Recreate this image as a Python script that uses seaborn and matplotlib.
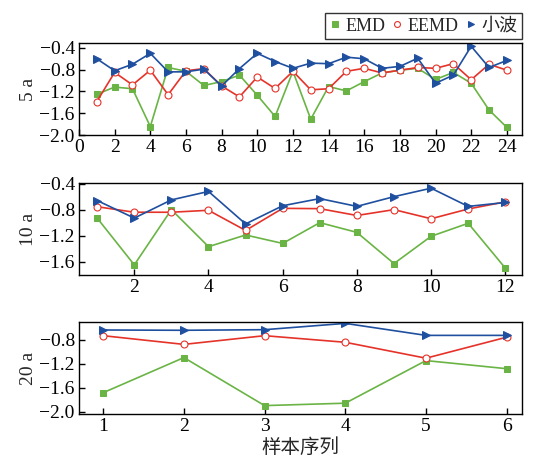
import matplotlib
matplotlib.use("Agg")
from matplotlib import pyplot as plt
import seaborn as sns
import numpy as np
import pandas as pd

# 5 a
emd_5 = [-1.25, -1.12, -1.15, -1.845, -0.76, -0.83, -1.09, -1.02, -0.90, -1.27, -1.66, -0.83,
         -1.71, -1.11, -1.19, -1.02, -0.86, -0.81, -0.775, -0.98, -0.85, -1.05, -1.54, -1.86]
eemd_5 = [-1.385, -0.85, -1.08, -0.81, -1.26, -0.82, -0.78, -1.10, -1.30, -0.935, -1.145, -0.83,
          -1.17, -1.15, -0.83, -0.775, -0.86, -0.81, -0.76, -0.775, -0.69, -0.985, -0.70, -0.81]
wav_5 = [-0.60, -0.82, -0.70, -0.50, -0.84, -0.84, -0.79, -1.10, -0.78, -0.50, -0.65, -0.775,
         -0.68, -0.69, -0.57, -0.60, -0.775, -0.74, -0.59, -1.05, -0.90, -0.37, -0.76, -0.63]

# 10 a
emd_10 = [-0.93, -1.65, -0.80, -1.37, -1.19, -1.32, -1.00, -1.15, -1.63, -1.21, -1.01, -1.70]
eemd_10 = [-0.755, -0.84, -0.84, -0.81, -1.12, -0.78, -0.785, -0.89, -0.80, -0.94, -0.79, -0.68]
wav_10 = [-0.66, -0.93, -0.65, -0.52, -1.02, -0.74, -0.63, -0.75, -0.60, -0.47, -0.75, -0.69]

# 20 a
emd_20 = [-1.685, -1.10, -1.90, -1.86, -1.15, -1.285]
eemd_20 = [-0.735, -0.88, -0.735, -0.845, -1.11, -0.76]
wav_20 = [-0.64, -0.645, -0.635, -0.53, -0.73, -0.73]

methods = ["EMD", "EEMD", "小波"]
colors = {"EMD": "#6ab445", "EEMD": "#e5332a", "小波": "#1f4f9f"}

sns.set_style("ticks")
plt.rcParams["font.family"] = ["Liberation Serif", "Noto Sans CJK SC"]
plt.rcParams["xtick.direction"] = "in"
plt.rcParams["ytick.direction"] = "in"


def long_df(emd, eemd, wav):
    n = len(emd)
    x = np.arange(1, n + 1)
    return pd.DataFrame({
        "样本序列": np.tile(x, 3),
        "value": np.concatenate([emd, eemd, wav]),
        "method": np.repeat(methods, n),
    })


def fmt(v, pos):
    return f"{v:.1f}".replace("-", "\u2212")


fig = plt.figure(figsize=(5.42, 4.69), dpi=100)
W, H = 542, 469
boxes = [(43, 135), (183, 275), (322, 414)]
axes = [fig.add_axes([79 / W, 1 - b / H, (522 - 79) / W, (b - t) / H]) for t, b in boxes]

data = [long_df(emd_5, eemd_5, wav_5), long_df(emd_10, eemd_10, wav_10), long_df(emd_20, eemd_20, wav_20)]

for ax, df in zip(axes, data):
    for m in methods:
        sub = df[df["method"] == m]
        kw = dict(color=colors[m], linewidth=1.2, label=m)
        if m == "EMD":
            kw.update(marker="s", markersize=4.3, markerfacecolor=colors[m], markeredgecolor=colors[m])
        elif m == "EEMD":
            kw.update(marker="o", markersize=5, markerfacecolor="white", markeredgecolor=colors[m],
                      markeredgewidth=0.8)
        else:
            kw.update(marker=">", markersize=5.3, markerfacecolor=colors[m], markeredgecolor=colors[m])
        sns.lineplot(data=sub, x="样本序列", y="value", ax=ax, **kw)
    for s in ax.spines.values():
        s.set_visible(True)
        s.set_linewidth(1.0)
        s.set_color("black")
    ax.tick_params(labelsize=14, length=4, width=1, colors="black", pad=3)
    ax.set_xlabel("")
    ax.yaxis.set_major_formatter(matplotlib.ticker.FuncFormatter(fmt))
    if ax.get_legend() is not None:
        ax.get_legend().remove()

ax1, ax2, ax3 = axes
ax1.set_xlim(0, 24.85)
ax1.set_ylim(-2.0, -0.31)
ax1.set_xticks(range(0, 25, 2))
ax1.set_yticks([-0.4, -0.8, -1.2, -1.6, -2.0])
ax1.set_ylabel("5 a", fontsize=14, labelpad=2)

ax2.set_xlim(0.51, 12.45)
ax2.set_ylim(-1.806, -0.39)
ax2.set_xticks(range(2, 13, 2))
ax2.set_yticks([-0.4, -0.8, -1.2, -1.6])
ax2.set_ylabel("10 a", fontsize=14, labelpad=2)

ax3.set_xlim(0.70, 6.19)
ax3.set_ylim(-2.04, -0.507)
ax3.set_xticks(range(1, 7))
ax3.set_yticks([-0.8, -1.2, -1.6, -2.0])
ax3.set_ylabel("20 a", fontsize=14, labelpad=2)
ax3.set_xlabel("样本序列", fontsize=14, labelpad=2)

handles, labels = ax1.get_legend_handles_labels()
leg = fig.legend(handles, labels, loc="upper right", bbox_to_anchor=(522 / W, 1 - 13 / H), ncol=3,
                 fontsize=13, frameon=True, fancybox=False, edgecolor="black", handlelength=0.5,
                 handletextpad=0.35, columnspacing=0.4, borderpad=0.25, borderaxespad=0, markerscale=0.85)
leg.get_frame().set_linewidth(1.0)
for line in leg.get_lines():
    line.set_linestyle("none")

fig.savefig("out.png", dpi=100)
